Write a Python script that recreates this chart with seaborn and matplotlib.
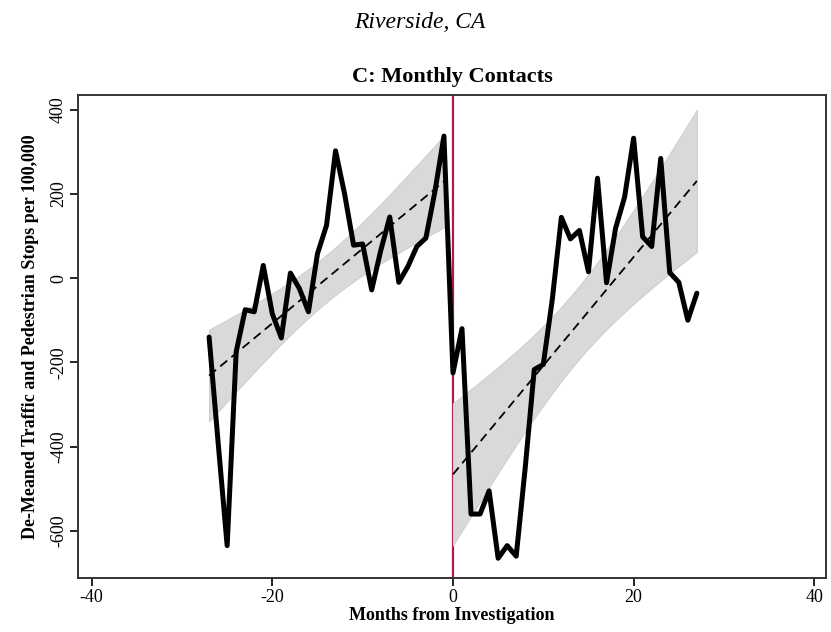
import numpy as np
import pandas as pd
import matplotlib
matplotlib.use("Agg")
import matplotlib.pyplot as plt
import seaborn as sns

# ---- data ----
months_pre = list(range(-27, 0))
stops_pre = [-140, -390, -635, -175, -75, -80, 30, -85, -142, 12, -25, -80, 58, 125,
             302, 200, 78, 81, -28, 65, 145, -10, 27, 75, 95, 205, 337]
months_post = list(range(0, 28))
stops_post = [-225, -120, -560, -560, -505, -665, -635, -660, -450, -217, -205, -50,
              144, 93, 113, 15, 237, -11, 118, 192, 332, 98, 75, 284, 13, -10, -100, -36]

title = "C: Monthly Contacts"
suptitle = "Riverside, CA"
xlabel = "Months from Investigation"
ylabel = "De-Meaned Traffic and Pedestrian Stops per 100,000"
xticks = [-40, -20, 0, 20, 40]
yticks = [-600, -400, -200, 0, 200, 400]
T975 = 2.06  # t critical value, 95% CI, ~25 df

pre = pd.DataFrame({"month": months_pre, "stops": stops_pre})
post = pd.DataFrame({"month": months_post, "stops": stops_post})
alld = pd.concat([pre, post], ignore_index=True)

sns.set_theme(style="white")
plt.rcParams["font.family"] = ["Liberation Serif", "DejaVu Serif"]
plt.rcParams["axes.unicode_minus"] = False
for k in ("text.color", "axes.labelcolor", "xtick.color", "ytick.color"):
    plt.rcParams[k] = "black"

fig = plt.figure(figsize=(8.31, 6.32), dpi=100)
ax = fig.add_axes([0.094, 0.086, 0.900, 0.764])

ax.axvline(0, color="#B5174B", lw=1.6, zorder=1)


def ols_band(df):
    x = df["month"].to_numpy(float)
    y = df["stops"].to_numpy(float)
    b, a = np.polyfit(x, y, 1)
    grid = np.linspace(x.min(), x.max(), 100)
    fit = a + b * grid
    resid = y - (a + b * x)
    s = np.sqrt((resid ** 2).sum() / (len(x) - 2))
    se = s * np.sqrt(1 / len(x) + (grid - x.mean()) ** 2 / ((x - x.mean()) ** 2).sum())
    return grid, fit - T975 * se, fit + T975 * se


for df in (pre, post):
    g, lo, hi = ols_band(df)
    ax.fill_between(g, lo, hi, color="#d9d9d9", lw=0.8, edgecolor="#cfcfcf", zorder=2)
    sns.regplot(data=df, x="month", y="stops", ax=ax, scatter=False, ci=None,
                color="black", line_kws=dict(ls=(0, (5, 3)), lw=1.3, zorder=3))

sns.lineplot(data=alld, x="month", y="stops", ax=ax, color="black", lw=3.6,
             zorder=4, estimator=None, sort=True)

ax.set_xlim(-41.5, 41.3)
ax.set_ylim(-711, 435)
ax.set_xticks(xticks)
ax.set_yticks(yticks)
ax.tick_params(axis="both", direction="out", length=6, width=1.2, color="black",
               labelsize=13, bottom=True, left=True, pad=2)
for lab in ax.get_yticklabels():
    lab.set_rotation(90)
    lab.set_va("center")
ax.set_xlabel(xlabel, fontsize=13, fontweight="bold", labelpad=1)
ax.set_ylabel(ylabel, fontsize=13, fontweight="bold", labelpad=8)
ax.set_title(title, fontsize=16, fontweight="bold", pad=9)
for s in ax.spines.values():
    s.set_color("#333333")
    s.set_linewidth(1.4)

fig.text(0.505, 0.965, suptitle, ha="center", va="center", fontsize=17,
         style="italic")

fig.savefig("out.png", dpi=100)
